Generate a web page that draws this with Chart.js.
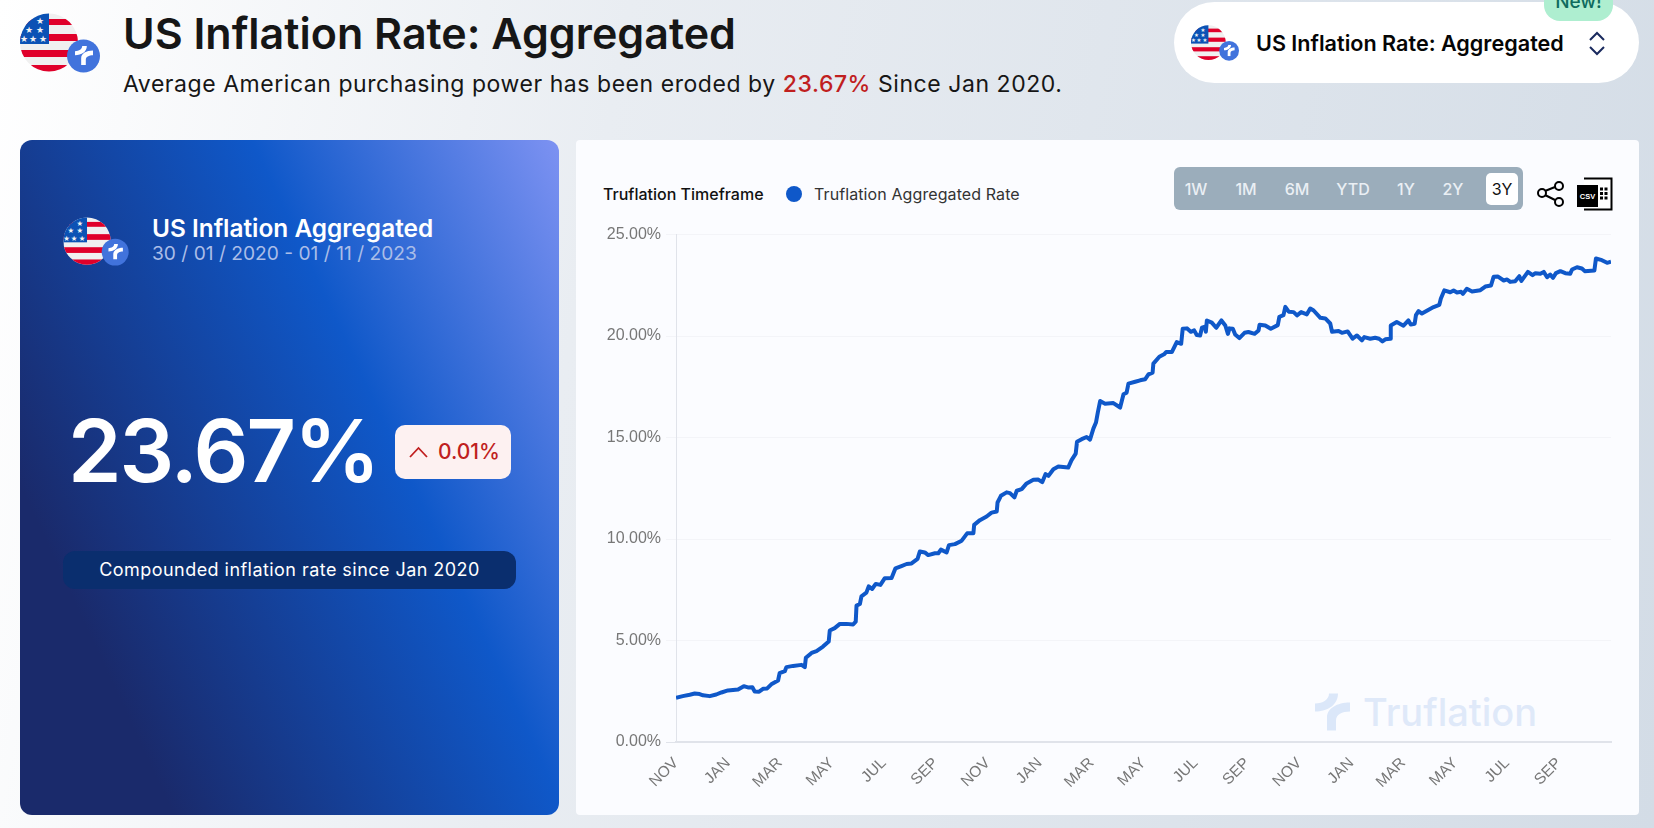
<!DOCTYPE html>
<html>
<head>
<meta charset="utf-8">
<title>US Inflation Rate: Aggregated</title>
<script src="https://cdn.jsdelivr.net/npm/chart.js@4"></script>
<style>
  html, body { margin: 0; padding: 0; }
  body { width: 1654px; height: 828px; overflow: hidden; position: relative; font-family: Inter, sans-serif; color: #161616;
    background: linear-gradient(100deg, #ffffff 0%, #e9edf2 35%, #d3dce6 100%); }
  .abs { position: absolute; white-space: nowrap; }
  .red { color: #c01f1f; font-weight: 500; }
  #panel { left: 20px; top: 140px; width: 539px; height: 675px; border-radius: 12px;
    background: linear-gradient(65deg, #1a2a6b 0%, #1a2a6b 18%, #0f58c9 64%, #7d92f2 100%); }
  #card { left: 576px; top: 140px; width: 1063px; height: 675px; background: #fbfcff; border-radius: 4px; }
  #pill { left: 1174px; top: 2px; width: 465px; height: 81px; border-radius: 41px; background: #fff; }
  #newtag { left: 1544px; top: -12px; width: 69px; height: 33px; border-radius: 0 0 16px 16px; background: #aeeed0; color: #0e6b5e;
    font-size: 19px; font-weight: 500; text-align: center; line-height: 22px; padding-top: 0; overflow: hidden; }
  #range { left: 1174px; top: 167px; width: 349px; height: 43px; background: #9badbb; border-radius: 6px; }
  .rng { top: 179px; font-size: 16px; font-weight: 500; color: #eaeff4; transform: translateX(-50%); }
  #active { left: 1486px; top: 173px; width: 32px; height: 32px; background: #fff; border-radius: 5px; }
  canvas { position: absolute; left: 590px; top: 220px; }
</style>
</head>
<body>
<svg width="0" height="0" style="position:absolute">
  <defs>
    <symbol id="tf" viewBox="0 0 35 37">
      <path d="M14 0h9C23 11 13 18 0 18V10C8 10 14 6 14 0Z"/>
      <path d="M12 37V24C12 15 22 9 35 9V18C27 18 21 21 21 27V37Z"/>
    </symbol>
    <clipPath id="fc"><circle cx="29" cy="29.5" r="29"/></clipPath>
    <symbol id="usflag" viewBox="0 0 80 60">
      <g clip-path="url(#fc)">
        <rect width="60" height="60" fill="#f0f0f0"/>
        <rect y="6" width="60" height="6" fill="#e0002a"/>
        <rect y="21" width="60" height="7" fill="#e0002a"/>
        <rect y="37" width="60" height="7" fill="#e0002a"/>
        <rect y="52" width="60" height="8" fill="#e0002a"/>
        <rect width="29" height="31" fill="#0b52b5"/>
        <g fill="#f3f3f3" font-size="9" font-family="DejaVu Sans">
          <text x="16" y="11">★</text><text x="5" y="20">★</text><text x="16" y="20">★</text>
          <text x="0" y="29">★</text><text x="9" y="29">★</text><text x="19" y="29">★</text>
        </g>
      </g>
      <circle cx="63.5" cy="43" r="16.5" fill="#4173dc"/>
      <use href="#tf" x="55" y="33" width="18" height="19" fill="#fff"/>
    </symbol>
  </defs>
</svg>

<svg class="abs" style="left:20px;top:13px" width="80" height="60"><use href="#usflag"/></svg>
<div class="abs" style="left:123px;top:9px;font-size:43px;font-weight:600;line-height:48px">US Inflation Rate: Aggregated</div>
<div class="abs" style="left:123px;top:70px;font-size:23px;line-height:28px;letter-spacing:.55px">Average American purchasing power has been eroded by <span class="red">23.67%</span> Since Jan 2020.</div>

<div id="pill" class="abs"></div>
<div id="newtag" class="abs"><div style="margin-top:3px">New!</div></div>
<svg class="abs" style="left:1191px;top:25px" width="48" height="36"><use href="#usflag"/></svg>
<div class="abs" style="left:1256px;top:30px;font-size:21.6px;font-weight:600;line-height:26px;color:#050505">US Inflation Rate: Aggregated</div>
<svg class="abs" style="left:1587px;top:30px" width="20" height="26" fill="none" stroke="#1a2a5e" stroke-width="2"><path d="M3 10L10 3L17 10M3 17L10 24L17 17"/></svg>

<div id="panel" class="abs"></div>
<svg class="abs" style="left:63px;top:217px" width="66" height="49"><use href="#usflag"/></svg>
<div class="abs" style="left:152px;top:213px;font-size:24.4px;font-weight:600;line-height:30px;color:#fff">US Inflation Aggregated</div>
<div class="abs" style="left:152px;top:240px;font-size:19.2px;line-height:26px;color:#aabde8">30 / 01 / 2020 - 01 / 11 / 2023</div>
<div class="abs" style="left:68px;top:398px;font-size:86px;font-weight:600;line-height:106px;letter-spacing:-2px;color:#fff">23.67%</div>
<div class="abs" style="left:395px;top:425px;width:116px;height:54px;background:#fdf1f1;border-radius:10px"></div>
<svg class="abs" style="left:408px;top:444px" width="22" height="16" fill="none" stroke="#c01f1f" stroke-width="1.8"><path d="M2 13L10.5 4L19 13"/></svg>
<div class="abs" style="left:438px;top:438px;font-size:21px;font-weight:500;line-height:28px;color:#c01f1f">0.01%</div>
<div class="abs" style="left:63px;top:551px;width:453px;height:38px;background:#0a2e6e;border-radius:12px"></div>
<div class="abs" style="left:63px;top:551px;width:453px;text-align:center;font-size:18px;line-height:37px;color:#fff;letter-spacing:.45px">Compounded inflation rate since Jan 2020</div>

<div id="card" class="abs"></div>
<div class="abs" style="left:603px;top:184px;font-size:16px;font-weight:500;line-height:20px;color:#111">Truflation Timeframe</div>
<div class="abs" style="left:786px;top:186px;width:16px;height:16px;border-radius:50%;background:#0f58c9"></div>
<div class="abs" style="left:814px;top:184px;font-size:16px;line-height:20px;color:#333;letter-spacing:.1px">Truflation Aggregated Rate</div>

<div id="range" class="abs"></div>
<div id="active" class="abs"></div>
<div class="abs rng" style="left:1196px">1W</div>
<div class="abs rng" style="left:1246px">1M</div>
<div class="abs rng" style="left:1297px">6M</div>
<div class="abs rng" style="left:1353px">YTD</div>
<div class="abs rng" style="left:1406px">1Y</div>
<div class="abs rng" style="left:1453px">2Y</div>
<div class="abs rng" style="left:1502px;color:#111;font-weight:400">3Y</div>

<svg class="abs" style="left:1536px;top:180px" width="30" height="28" fill="none" stroke="#000" stroke-width="2">
  <path d="M9 11L19 7M9 15L19 20"/><circle cx="6" cy="13" r="4"/><circle cx="23" cy="6" r="4"/><circle cx="23" cy="22" r="4"/>
</svg>
<svg class="abs" style="left:1577px;top:177px" width="36" height="34">
  <path d="M7 1.5H34.5V32.5H7" fill="#fff" stroke="#000" stroke-width="2"/>
  <rect x="0" y="8" width="21" height="22" fill="#000"/>
  <text x="10.5" y="22" fill="#fff" font-size="7.5" font-weight="700" text-anchor="middle" font-family="Liberation Sans">CSV</text>
  <path d="M23 12h8M23 16.500h8M23 21h8" stroke="#000" stroke-width="3" stroke-dasharray="3 1.500"/>
</svg>

<svg class="abs" style="left:1315px;top:693px;fill:#dbe7f9" width="35" height="38"><use href="#tf"/></svg>
<div class="abs" style="left:1363px;top:689px;font-size:38px;font-weight:500;line-height:46px;color:#dfe9f9">Truflation</div>

<canvas id="rate-chart" width="1040" height="590"></canvas>

<script>
// months since Nov 2020 / compounded rate in %
const months = [
  0, .26, .53, .72, .91, 1.04, 1.3, 1.55, 1.75, 2, 2.39, 2.61, 2.77, 2.94, 3.03, 3.2, 3.35, 3.51, 3.67, 3.93,
  3.99, 4.19, 4.25, 4.51, 4.83, 4.96, 5, 5.22, 5.41, 5.66, 5.88, 5.92, 6.11, 6.31, 6.56, 6.82, 6.92, 6.95, 7.08, 7.14,
  7.33, 7.42, 7.55, 7.69, 7.87, 8.04, 8.3, 8.45, 8.68, 8.88, 9.07, 9.3, 9.39, 9.58, 9.71, 9.97, 10.1, 10.2, 10.42, 10.51,
  10.74, 11, 11.21, 11.45, 11.48, 11.7, 11.96, 12.15, 12.35, 12.38, 12.51, 12.73, 12.86, 13.03, 13.12, 13.31, 13.5, 13.76, 13.95, 14.1,
  14.23, 14.34, 14.53, 14.72, 15.1, 15.23, 15.39, 15.44, 15.62, 15.81, 15.94, 16.07, 16.17, 16.24, 16.33, 16.52, 16.84, 17.1, 17.23, 17.35,
  17.42, 17.68, 17.87, 18.06, 18.19, 18.35, 18.38, 18.61, 18.79, 18.87, 19.09, 19.28, 19.45, 19.51, 19.67, 19.82, 19.95, 20.05, 20.18, 20.25,
  20.37, 20.4, 20.44, 20.63, 20.8, 21, 21.15, 21.25, 21.31, 21.44, 21.53, 21.69, 21.89, 22.04, 22.28, 22.43, 22.47, 22.69, 22.9, 23.17,
  23.23, 23.39, 23.46, 23.59, 23.78, 23.91, 24.07, 24.29, 24.42, 24.55, 24.81, 25, 25.19, 25.26, 25.51, 25.64, 25.86, 26.05, 26.22, 26.41,
  26.5, 26.73, 26.92, 27.07, 27.2, 27.31, 27.5, 27.52, 27.75, 28.01, 28.2, 28.29, 28.44, 28.49, 28.59, 28.72, 28.98, 29.17, 29.39, 29.45,
  29.58, 29.81, 29.94, 30.07, 30.23, 30.3, 30.45, 30.65, 30.97, 31.16, 31.38, 31.48, 31.65, 31.87, 32, 32.12, 32.31, 32.47, 32.55, 32.8,
  32.98, 33.09, 33.28, 33.41, 33.54, 33.66, 33.77, 33.88, 34.05, 34.24, 34.43, 34.5, 34.69, 34.88, 34.99, 35.36, 35.42, 35.65, 35.85, 36
];
const rates = [
  2.18, 2.26, 2.33, 2.39, 2.36, 2.3, 2.26, 2.34, 2.44, 2.54, 2.59, 2.75, 2.69, 2.7, 2.49, 2.48, 2.62, 2.64, 2.84, 3.03,
  3.39, 3.49, 3.69, 3.75, 3.8, 3.69, 4.15, 4.39, 4.48, 4.7, 4.95, 5.49, 5.61, 5.82, 5.82, 5.79, 5.93, 6.72, 6.8, 7.18,
  7.36, 7.67, 7.54, 7.79, 7.74, 8.07, 8.08, 8.56, 8.67, 8.77, 8.8, 9.02, 9.39, 9.34, 9.21, 9.3, 9.3, 9.48, 9.34, 9.7,
  9.75, 9.92, 10.28, 10.28, 10.7, 10.93, 11.11, 11.3, 11.36, 11.8, 12.13, 12.3, 12.26, 12.05, 12.38, 12.46, 12.74, 12.92, 12.93, 12.8,
  13.2, 13.11, 13.44, 13.57, 13.52, 13.89, 14.21, 14.79, 14.92, 15.03, 14.9, 15.44, 15.74, 16.23, 16.8, 16.67, 16.7, 16.48, 17.13, 17.21,
  17.66, 17.75, 17.82, 17.87, 18.11, 18.2, 18.64, 18.98, 19.1, 19.21, 19.21, 19.7, 19.62, 20.36, 20.38, 20.21, 20.28, 20.05, 20.03, 20.41,
  20.46, 20.21, 20.77, 20.66, 20.41, 20.77, 20.52, 20.11, 20.38, 20.36, 20.08, 19.9, 20.16, 20.2, 20.11, 20.28, 20.56, 20.52, 20.36, 20.54,
  20.95, 21.03, 21.44, 21.2, 21.18, 21.02, 21.18, 21.07, 21.36, 21.26, 20.9, 20.87, 20.62, 20.21, 20.25, 20.16, 20.23, 19.87, 20.03, 19.79,
  19.95, 19.87, 19.92, 19.87, 19.74, 19.84, 19.87, 20.52, 20.69, 20.51, 20.77, 20.57, 20.61, 21.03, 21.23, 21.11, 21.3, 21.43, 21.54, 21.85,
  22.25, 22.16, 22.25, 22.15, 22.18, 22.08, 22.33, 22.2, 22.26, 22.44, 22.49, 22.92, 22.93, 22.74, 22.79, 22.67, 22.7, 22.95, 22.72, 23.16,
  23, 23.1, 23.07, 23.16, 22.9, 23.03, 22.87, 23.1, 23.2, 23.1, 23.07, 23.28, 23.39, 23.33, 23.2, 23.23, 23.82, 23.74, 23.61, 23.66
];
const monthTicks = ['NOV', 'JAN', 'MAR', 'MAY', 'JUL', 'SEP', 'NOV', 'JAN', 'MAR', 'MAY', 'JUL', 'SEP', 'NOV', 'JAN', 'MAR', 'MAY', 'JUL', 'SEP'];

const tickFamily = '"Liberation Sans", Arial, sans-serif';

new Chart(document.getElementById('rate-chart'), {
  type: 'line',
  data: {
    datasets: [{
      label: 'Truflation Aggregated Rate',
      data: months.map((m, i) => ({ x: m, y: rates[i] })),
      borderColor: '#0f58c9',
      borderWidth: 4,
      borderJoinStyle: 'round',
      pointRadius: 0,
      tension: 0
    }]
  },
  options: {
    responsive: false,
    animation: false,
    layout: { padding: { top: 13, right: 19 } },
    plugins: { legend: { display: false }, tooltip: { enabled: false } },
    scales: {
      x: {
        type: 'linear', min: 0, max: 36,
        grid: { display: false },
        border: { color: '#e0e3ea', width: 2 },
        afterFit: s => { s.height = 68; },
        ticks: {
          stepSize: 2, autoSkip: false, minRotation: 45, maxRotation: 45, padding: 4, color: '#777',
          font: { family: tickFamily, size: 15.5 },
          callback: v => monthTicks[v / 2] || ''
        }
      },
      y: {
        min: 0, max: 25,
        afterFit: s => { s.width = 86; },
        grid: { color: c => c.tick.value === 0 ? '#e0e3ea' : '#f3f4f8', tickLength: 10 },
        border: { color: '#e0e3ea' },
        ticks: {
          stepSize: 5, padding: 5, color: '#777',
          font: { family: tickFamily, size: 16 },
          callback: v => v.toFixed(2) + '%'
        }
      }
    }
  }
});
</script>
</body>
</html>
